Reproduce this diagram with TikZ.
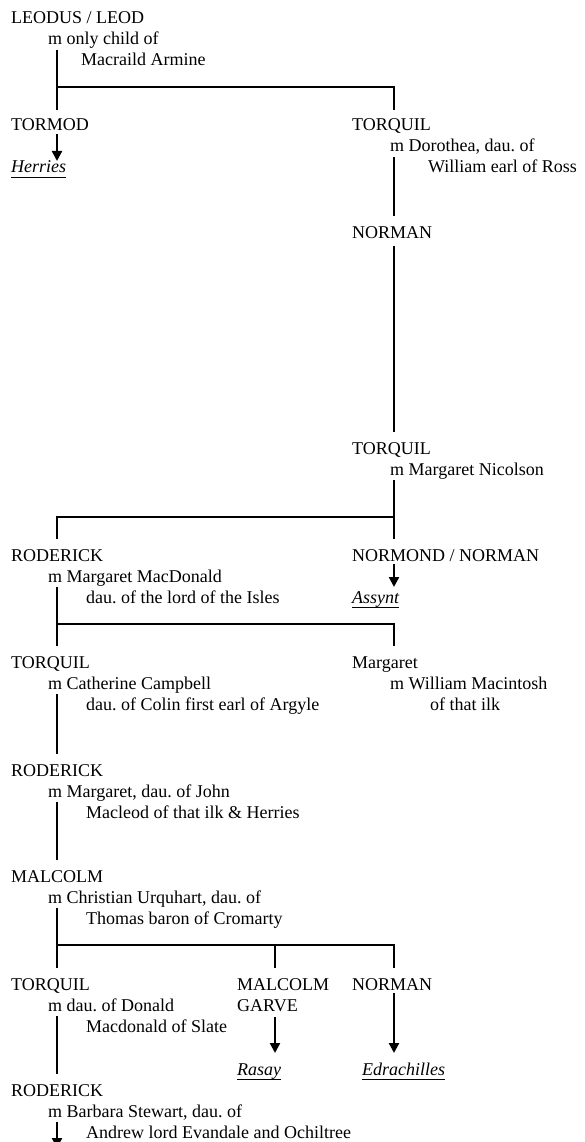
\documentclass[tikz,border=0pt]{standalone}
\usepackage{fontspec}
\setmainfont{Liberation Serif}
\usetikzlibrary{calc,arrows.meta}
\begin{document}
\frenchspacing
\begin{tikzpicture}[x=1pt,y=-1pt,
  txt/.style={anchor=base west,inner sep=0pt,font=\fontsize{18pt}{21pt}\selectfont\frenchspacing},
  place/.style={txt,font=\fontsize{18pt}{21pt}\selectfont\itshape},
  ln/.style={line width=1.8pt},
  arr/.style={line width=2.2pt,-{Triangle[width=10pt,length=10pt]}},
  ul/.style={line width=0.9pt}]
\clip (0,0) rectangle (584,1142);
\fill[white] (0,0) rectangle (584,1142);
\coordinate (cL) at (57,0);
\coordinate (cM) at (275,0);
\coordinate (cR) at (394,0);
% texts
\node[txt] (leod) at (11,24) {LEODUS / LEOD};
\node[txt] (leodm) at (48,45) {m only child of};
\node[txt] (leodw) at (81,66) {Macraild Armine};
\node[txt] (tormod) at (11,131) {TORMOD};
\node[place] (herries) at (11,173) {Herries};
\node[txt] (torq1) at (352,131) {TORQUIL};
\node[txt] (torq1m) at (390,152) {m Dorothea, dau. of};
\node[txt] (torq1w) at (428,173) {William earl of Ross};
\node[txt] (norman1) at (352,238) {NORMAN};
\node[txt] (torq2) at (352,454) {TORQUIL};
\node[txt] (torq2m) at (390,475) {m Margaret Nicolson};
\node[txt] (rod1) at (11,561) {RODERICK};
\node[txt] (rod1m) at (48,582) {m Margaret MacDonald};
\node[txt] (rod1w) at (86,603) {dau. of the lord of the Isles};
\node[txt] (normond) at (352,561) {NORMOND / NORMAN};
\node[place] (assynt) at (352,603) {Assynt};
\node[txt] (torq3) at (11,668) {TORQUIL};
\node[txt] (torq3m) at (48,689) {m Catherine Campbell};
\node[txt] (torq3w) at (86,710) {dau. of Colin first earl of Argyle};
\node[txt] (marg) at (352,668) {Margaret};
\node[txt] (margm) at (390,689) {m William Macintosh};
\node[txt] (margw) at (430,710) {of that ilk};
\node[txt] (rod2) at (11,776) {RODERICK};
\node[txt] (rod2m) at (48,797) {m Margaret, dau. of John};
\node[txt] (rod2w) at (86,818) {Macleod of that ilk \& Herries};
\node[txt] (malc) at (11,882) {MALCOLM};
\node[txt] (malcm) at (48,903) {m Christian Urquhart, dau. of};
\node[txt] (malcw) at (86,924) {Thomas baron of Cromarty};
\node[txt] (torq4) at (11,990) {TORQUIL};
\node[txt] (torq4m) at (48,1011) {m dau. of Donald};
\node[txt] (torq4w) at (86,1032) {Macdonald of Slate};
\node[txt] (malcg) at (237,990) {MALCOLM};
\node[txt] (garve) at (237,1011) {GARVE};
\node[txt] (norman2) at (352,990) {NORMAN};
\node[place] (rasay) at (237,1075) {Rasay};
\node[place] (edra) at (362,1075) {Edrachilles};
\node[txt] (rod3) at (11,1096) {RODERICK};
\node[txt] (rod3m) at (48,1117) {m Barbara Stewart, dau. of};
\node[txt] (rod3w) at (86,1138) {Andrew lord Evandale and Ochiltree};
\coordinate (rod3end) at (57,1148);
% underlines
\foreach \n in {herries,assynt,rasay,edra}
  \draw[ul] ($(\n.base west)+(0,4)$) -- ($(\n.base east)+(0,4)$);
% connectors
\draw[ln] ($(leodm.base -| cL)+(0,5)$) -- ($(tormod.base -| cL)+(0,-21)$);
\draw[ln] ($(leodm.base -| cL)+(0,42)$) -| ($(torq1.base -| cR)+(0,-21)$);
\draw[arr] ($(tormod.base -| cL)+(0,3)$) -- ($(herries.base -| cL)+(0,-12)$);
\draw[ln] ($(torq1m.base -| cR)+(0,5)$) -- ($(norman1.base -| cR)+(0,-22)$);
\draw[ln] ($(norman1.base -| cR)+(0,8)$) -- ($(torq2.base -| cR)+(0,-22)$);
\draw[ln] ($(torq2m.base -| cR)+(0,5)$) -- ($(normond.base -| cR)+(0,-22)$);
\draw[ln] ($(torq2m.base -| cR)+(0,42)$) -| ($(rod1.base -| cL)+(0,-22)$);
\draw[arr] ($(normond.base -| cR)+(0,3)$) -- ($(assynt.base -| cR)+(0,-16)$);
\draw[ln] ($(rod1m.base -| cL)+(0,5)$) -- ($(torq3.base -| cL)+(0,-22)$);
\draw[ln] ($(rod1m.base -| cL)+(0,42)$) -| ($(marg.base -| cR)+(0,-22)$);
\draw[ln] ($(torq3m.base -| cL)+(0,5)$) -- ($(rod2.base -| cL)+(0,-22)$);
\draw[ln] ($(rod2m.base -| cL)+(0,5)$) -- ($(malc.base -| cL)+(0,-22)$);
\draw[ln] ($(malcm.base -| cL)+(0,5)$) -- ($(torq4.base -| cL)+(0,-22)$);
\draw[ln] ($(malcm.base -| cL)+(0,42)$) -| ($(norman2.base -| cR)+(0,-22)$);
\draw[ln] ($(malcm.base -| cM)+(0,42)$) -- ($(malcg.base -| cM)+(0,-22)$);
\draw[arr] ($(garve.base -| cM)+(0,6)$) -- ($(rasay.base -| cM)+(0,-22)$);
\draw[arr] ($(norman2.base -| cR)+(0,3)$) -- ($(edra.base -| cR)+(0,-22)$);
\draw[ln] ($(torq4m.base -| cL)+(0,5)$) -- ($(rod3.base -| cL)+(0,-22)$);
\draw[arr] ($(rod3m.base -| cL)+(0,5)$) -- (rod3end);
\end{tikzpicture}
\end{document}
